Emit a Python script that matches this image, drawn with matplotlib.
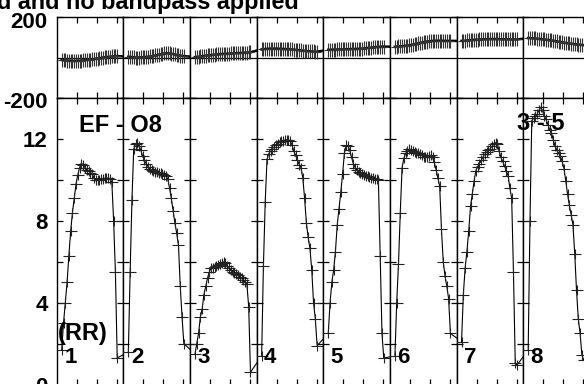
import numpy as np
import matplotlib
matplotlib.use("Agg")
import matplotlib.pyplot as plt
from matplotlib.path import Path
from matplotlib.transforms import ScaledTranslation

plt.rcParams['font.family'] = ['Liberation Sans', 'DejaVu Sans']
plt.rcParams['font.weight'] = 'bold'

# data: 8 IFs, 32 channels each
if_labels = ['1', '2', '3', '4', '5', '6', '7', '8']

amp_if1 = [1.7, 3.0, 4.0, 5.0, 6.3, 7.5, 8.4, 9.1, 9.8, 10.25, 10.6, 10.8, 10.75, 10.6, 10.5, 10.45,
           10.35, 10.3, 10.1, 10.0, 9.98, 10.0, 10.02, 10.05, 10.08, 10.1, 10.08, 10.05, 9.9, 8.0, 5.5, 1.3]
amp_if2 = [1.6, 5.5, 9.0, 11.5, 11.75, 11.8, 11.65, 11.45, 11.15, 10.95, 10.78, 10.65, 10.52, 10.48, 10.43, 10.4,
           10.38, 10.36, 10.34, 10.3, 10.25, 10.18, 10.05, 9.6, 9.1, 8.5, 7.9, 7.4, 6.8, 4.8, 3.3, 2.0]
amp_if3 = [1.5, 2.0, 2.5, 3.3, 3.7, 4.4, 4.8, 5.2, 5.5, 5.68, 5.72, 5.76, 5.8, 5.83, 5.9, 5.95,
           6.0, 5.92, 5.8, 5.72, 5.62, 5.52, 5.46, 5.4, 5.35, 5.28, 5.2, 5.1, 5.0, 4.9, 3.8, 0.6]
amp_if4 = [1.4, 5.8, 8.9, 11.0, 11.28, 11.4, 11.52, 11.62, 11.7, 11.77, 11.83, 11.88, 11.92, 11.94, 11.96, 11.96,
           11.9, 11.7, 11.4, 11.2, 10.95, 10.75, 10.6, 10.1, 9.1, 7.9, 7.2, 6.65, 5.6, 4.0, 3.2, 1.9]
amp_if5 = [2.5, 4.0, 5.0, 5.6, 6.5, 7.8, 8.6, 9.4, 10.3, 11.3, 11.68, 11.65, 11.45, 11.1, 10.8, 10.6,
           10.48, 10.4, 10.35, 10.3, 10.25, 10.2, 10.17, 10.14, 10.1, 10.08, 10.05, 10.02, 10.0, 6.3, 2.5, 1.3]
amp_if6 = [1.4, 4.0, 5.9, 8.4, 10.6, 11.05, 11.3, 11.4, 11.5, 11.48, 11.43, 11.38, 11.33, 11.29, 11.26, 11.2,
           11.14, 11.11, 11.1, 11.15, 11.2, 11.1, 10.85, 10.5, 10.1, 9.7, 7.6, 6.0, 5.3, 4.8, 4.2, 2.5]
amp_if7 = [2.1, 4.4, 5.7, 6.5, 7.5, 8.7, 9.3, 9.95, 10.45, 10.65, 10.8, 10.95, 11.12, 11.25, 11.35, 11.45,
           11.52, 11.65, 11.73, 11.82, 11.75, 11.4, 11.1, 10.9, 10.68, 10.45, 10.2, 9.6, 9.1, 5.5, 1.05, 0.95]
amp_if8 = [1.7, 8.0, 12.9, 13.0, 13.1, 13.2, 13.4, 13.55, 13.4, 13.1, 12.95, 12.7, 12.45, 12.3, 11.95, 11.65,
           11.45, 11.3, 11.15, 10.9, 10.55, 9.95, 9.3, 8.75, 8.3, 7.8, 6.4, 4.6, 3.2, 2.5, 1.45, 1.2]

ph_if1 = [-12, -13, -14, -15, -16, -16, -17, -17, -17, -16, -16, -15, -14, -13, -12, -11,
          -10, -9, -8, -6, -5, -3, -2, 0, 1, 2, 3, 4, 5, 6, 6, 7]
ph_if2 = [4, 3, 2, 1, 0, 0, 0, 1, 1, 2, 3, 4, 5, 6, 8, 10,
          12, 14, 16, 18, 20, 21, 21, 20, 19, 17, 15, 13, 11, 9, 8, 7]
ph_if3 = [2, 3, 4, 6, 7, 8, 9, 10, 11, 12, 13, 14, 15, 16, 17, 17,
          18, 18, 19, 19, 20, 20, 21, 21, 22, 22, 23, 23, 24, 24, 25, 26]
ph_if4 = [40, 41, 42, 43, 43, 44, 44, 44, 44, 44, 43, 43, 42, 42, 41, 41,
          40, 40, 39, 38, 37, 36, 35, 34, 33, 32, 31, 31, 30, 30, 29, 29]
ph_if5 = [38, 38, 39, 39, 39, 40, 40, 40, 40, 41, 41, 41, 41, 42, 42, 42,
          43, 43, 44, 44, 45, 46, 47, 48, 49, 50, 51, 52, 52, 53, 54, 54]
ph_if6 = [53, 54, 55, 55, 56, 57, 58, 59, 60, 62, 64, 66, 68, 70, 72, 74,
          76, 78, 79, 80, 81, 82, 82, 83, 83, 83, 83, 83, 82, 82, 82, 82]
ph_if7 = [82, 82, 83, 84, 85, 86, 87, 87, 88, 88, 89, 89, 90, 90, 90, 90,
          91, 91, 91, 91, 91, 91, 90, 90, 90, 90, 90, 90, 89, 89, 89, 89]
ph_if8 = [96, 96, 95, 95, 94, 93, 92, 91, 90, 89, 88, 87, 86, 84, 83, 81,
          80, 78, 77, 75, 74, 72, 71, 70, 68, 67, 66, 65, 64, 63, 62, 61]

amps = [amp_if1, amp_if2, amp_if3, amp_if4, amp_if5, amp_if6, amp_if7, amp_if8]
phases = [ph_if1, ph_if2, ph_if3, ph_if4, ph_if5, ph_if6, ph_if7, ph_if8]

W, H = 584, 384
fig = plt.figure(figsize=(W / 100, H / 100), dpi=100)

left_px, if_px = 56.7, 66.64
chan = np.arange(32)
if_span = 37.23          # IF box width in channel units
xlim = (-2.8, -2.8 + if_span)
xticks = [8.4, 19.6, 30.7]

# '+' markers, wider than tall like the original plot symbols
cross = Path([(-1, 0), (1, 0), (0, -0.75), (0, 0.75)],
             [Path.MOVETO, Path.LINETO, Path.MOVETO, Path.LINETO])
tall_cross = Path([(-0.6, 0), (0.6, 0), (0, -1), (0, 1)],
                  [Path.MOVETO, Path.LINETO, Path.MOVETO, Path.LINETO])


def style(ax):
    ax.set_xlim(*xlim)
    ax.set_xticks(xticks)
    ax.tick_params(direction='in', length=4, width=0.9, top=True, right=True,
                   labelbottom=False, labelsize=16, pad=6.5)
    for s in ax.spines.values():
        s.set_linewidth(1.0)


for k in range(8):
    x0 = (left_px + k * if_px) / W
    ax_ph = fig.add_axes([x0, (H - 98) / H, if_px / W, (98 - 17) / H])
    ax_amp = fig.add_axes([x0, (H - 384.6) / H, if_px / W, (384.6 - 98) / H])
    style(ax_ph)
    style(ax_amp)

    ax_ph.set_ylim(-200, 200)
    ax_amp.set_ylim(0, 14)
    ax_ph.axhline(0, color='black', lw=0.9)

    # line runs on to the first channel of the next IF
    xs = np.array(chan, dtype=float)
    a = list(amps[k])
    p = list(phases[k])
    if k < 7:
        xs = np.append(xs, if_span)
        a.append(amps[k + 1][0])
        p.append(phases[k + 1][0])

    ax_amp.plot(xs, a, color='black', lw=0.8, clip_on=False, zorder=3)
    ax_amp.plot(chan, amps[k], ls='none', marker=cross, ms=9.2, mew=0.8,
                color='#222222', zorder=4)

    ax_ph.plot(xs, p, color='black', lw=1.8, clip_on=False, zorder=3)
    ax_ph.plot(chan, phases[k], ls='none', marker=tall_cross, ms=10, mew=0.8,
               color='#333333', zorder=4)

    ax_amp.set_yticks([0, 2, 4, 6, 8, 10, 12, 14])
    ax_ph.set_yticks([-200, 200])
    if k == 0:
        ax_amp.set_yticklabels(['0', '', '4', '', '8', '', '12', ''])
        ax_ph.set_yticklabels(['-200', '200'])
        shift = ScaledTranslation(0, -2.5 / 100, fig.dpi_scale_trans)
        for t in ax_ph.get_yticklabels():
            t.set_transform(t.get_transform() + shift)
    else:
        ax_amp.set_yticklabels([])
        ax_ph.set_yticklabels([])

    fig.text((left_px + k * if_px + 7.5) / W, 1 - 363 / H, if_labels[k],
             fontsize=16, fontweight='bold', va='baseline', ha='left')


def label(x_px, y_px, s, size=17):
    fig.text(x_px / W, 1 - y_px / H, s, fontsize=size, fontweight='bold',
             va='baseline', ha='left')


label(79, 132, 'EF - O8')
label(517, 130, '3 - 5')
label(58, 340, '(RR)')
label(-3, 9.5, 'd and no bandpass applied', size=16.8)

fig.savefig('out.png', dpi=100)
